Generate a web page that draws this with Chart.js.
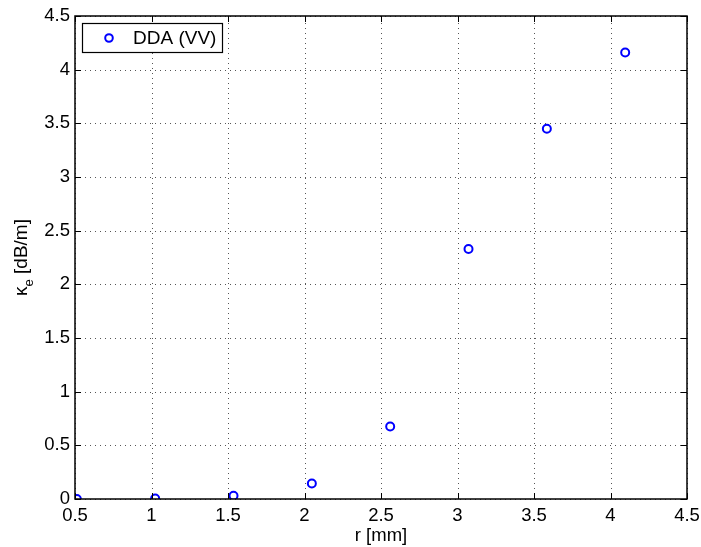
<!DOCTYPE html>
<html>
<head>
<meta charset="utf-8">
<script src="https://cdn.jsdelivr.net/npm/chart.js@4.4.0/dist/chart.umd.min.js"></script>
<style>
  html, body { margin: 0; padding: 0; background: #fff; }
  #wrap { width: 701px; height: 547px; }
</style>
</head>
<body>
<div id="wrap"><canvas id="chart" width="701" height="547"></canvas></div>
<script>
// data
const radius = [0.512, 1.024, 1.536, 2.048, 2.56, 3.072, 3.584, 4.096];
const kappaVV = [0.0, 0.005, 0.03, 0.145, 0.675, 2.33, 3.45, 4.16];
const xTicks = [0.5, 1, 1.5, 2, 2.5, 3, 3.5, 4, 4.5];
const yTicks = [0, 0.5, 1, 1.5, 2, 2.5, 3, 3.5, 4, 4.5];
const seriesName = "DDA (VV)";

const FONT = "Liberation Sans, Arial, Helvetica, sans-serif";

// =======================
// dotted grid (under the points)
// =======================
const dottedGrid = {
  id: "dottedGrid",
  beforeDatasetsDraw(chart) {
    const ctx = chart.ctx;
    const a = chart.chartArea;
    const xs = chart.scales.x, ys = chart.scales.y;
    ctx.save();
    ctx.strokeStyle = "#555";
    ctx.lineWidth = 1;
    ctx.setLineDash([1, 4]);
    ctx.beginPath();
    xTicks.forEach(v => {
      const px = Math.round(xs.getPixelForValue(v)) + 0.5;
      ctx.moveTo(px, a.bottom); ctx.lineTo(px, a.top);
    });
    yTicks.forEach(v => {
      const py = Math.round(ys.getPixelForValue(v)) + 0.5;
      ctx.moveTo(a.left, py); ctx.lineTo(a.right, py);
    });
    ctx.stroke();
    ctx.restore();
  }
};

// =======================
// box, inner ticks, legend, y title
// =======================
const matlabFrame = {
  id: "matlabFrame",
  afterDraw(chart) {
    const ctx = chart.ctx;
    const a = chart.chartArea;
    const xs = chart.scales.x, ys = chart.scales.y;
    ctx.save();
    ctx.strokeStyle = "#000";
    ctx.lineWidth = 1;
    // ticks inside the box
    ctx.beginPath();
    xTicks.forEach(v => {
      const px = Math.round(xs.getPixelForValue(v)) + 0.5;
      ctx.moveTo(px, a.bottom); ctx.lineTo(px, a.bottom - 6);
      ctx.moveTo(px, a.top); ctx.lineTo(px, a.top + 6);
    });
    yTicks.forEach(v => {
      const py = Math.round(ys.getPixelForValue(v)) + 0.5;
      ctx.moveTo(a.left, py); ctx.lineTo(a.left + 6, py);
      ctx.moveTo(a.right, py); ctx.lineTo(a.right - 6, py);
    });
    ctx.stroke();
    ctx.lineWidth = 1.5;
    ctx.strokeRect(a.left, a.top, a.right - a.left, a.bottom - a.top);

    // legend
    const lx = a.left + 7, ly = a.top + 7, lw = 140, lh = 29;
    ctx.fillStyle = "#fff";
    ctx.fillRect(lx, ly, lw, lh);
    ctx.lineWidth = 1.2;
    ctx.strokeRect(lx + 0.5, ly + 0.5, lw, lh);
    ctx.beginPath();
    ctx.strokeStyle = "#0000ff";
    ctx.lineWidth = 2;
    ctx.arc(lx + 27, ly + 15, 3.8, 0, Math.PI * 2);
    ctx.stroke();
    ctx.fillStyle = "#000";
    ctx.font = "19px " + FONT;
    ctx.textBaseline = "middle";
    ctx.textAlign = "left";
    ctx.fillText(seriesName, lx + 51, ly + 16);

    // y title with subscript
    ctx.translate(24, (a.top + a.bottom) / 2);
    ctx.rotate(-Math.PI / 2);
    const main = "\u03ba", sub = "e", rest = " [dB/m]";
    ctx.font = "19px " + FONT;
    const w1 = ctx.measureText(main).width;
    const w3 = ctx.measureText(rest).width;
    ctx.font = "13px " + FONT;
    const w2 = ctx.measureText(sub).width;
    const x0 = -(w1 + w2 + w3) / 2;
    ctx.textBaseline = "alphabetic";
    ctx.font = "19px " + FONT;
    ctx.fillText(main, x0, 3);
    ctx.font = "13px " + FONT;
    ctx.fillText(sub, x0 + w1, 9);
    ctx.font = "19px " + FONT;
    ctx.fillText(rest, x0 + w1 + w2, 3);
    ctx.restore();
  }
};

new Chart(document.getElementById("chart").getContext("2d"), {
  type: "scatter",
  data: {
    datasets: [{
      label: seriesName,
      data: radius.map((r, i) => ({ x: r, y: kappaVV[i] })),
      pointStyle: "circle",
      pointRadius: 4,
      pointBorderWidth: 2,
      borderColor: "#0000ff",
      backgroundColor: "rgba(0,0,0,0)",
      showLine: false
    }]
  },
  options: {
    responsive: false,
    animation: false,
    layout: { padding: { left: 0, right: 14, top: 16, bottom: 0 } },
    plugins: {
      legend: { display: false },
      tooltip: { enabled: false }
    },
    scales: {
      x: {
        type: "linear",
        min: 0.5, max: 4.5,
        afterBuildTicks: s => { s.ticks = xTicks.map(v => ({ value: v })); },
        afterFit: s => { s.height = 48; s.paddingLeft = 0; s.paddingRight = 0; },
        grid: { display: false, drawTicks: false },
        border: { display: false },
        ticks: {
          color: "#000", padding: 6,
          font: { family: FONT, size: 18.5 },
          maxRotation: 0,
          callback: v => String(v)
        },
        title: {
          display: true, text: "r [mm]", color: "#000",
          font: { family: FONT, size: 18.5 }, padding: { top: 0, bottom: 0 }
        }
      },
      y: {
        type: "linear",
        min: 0, max: 4.5,
        afterBuildTicks: s => { s.ticks = yTicks.map(v => ({ value: v })); },
        afterFit: s => { s.width = 75; s.paddingTop = 0; s.paddingBottom = 0; },
        grid: { display: false, drawTicks: false },
        border: { display: false },
        ticks: {
          color: "#000", padding: 5,
          font: { family: FONT, size: 18.5 },
          callback: v => String(v)
        }
      }
    }
  },
  plugins: [dottedGrid, matlabFrame]
});
</script>
</body>
</html>
